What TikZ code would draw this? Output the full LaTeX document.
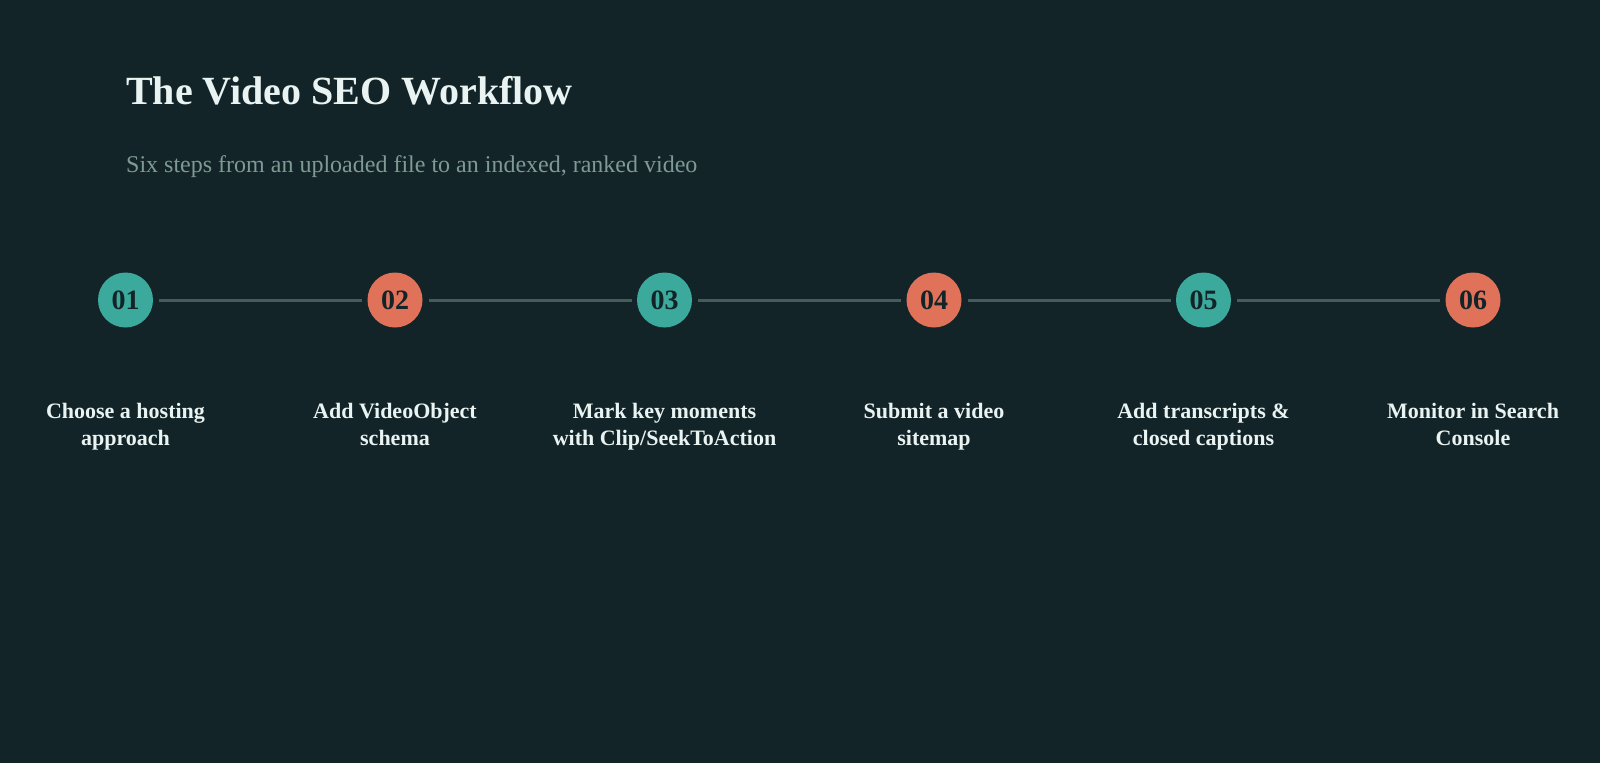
\documentclass[tikz,border=0pt]{standalone}
\usepackage{fontspec}
\setmainfont{Liberation Serif}
\definecolor{bgcol}{HTML}{132428}
\definecolor{tealstep}{HTML}{3BA99C}
\definecolor{coralstep}{HTML}{E0725A}
\definecolor{linkcol}{HTML}{465C5A}
\definecolor{lighttext}{HTML}{E9F3F2}
\definecolor{subtext}{HTML}{7E9A95}
\begin{document}
\begin{tikzpicture}
  [x=1pt, y=-1pt,
   stepnum/.style={circle, inner sep=0pt, minimum size=55pt, text=bgcol,
     font=\fontsize{28}{32}\selectfont\bfseries},
   tealnum/.style={stepnum, fill=tealstep},
   coralnum/.style={stepnum, fill=coralstep},
   steplabel/.style={align=center, anchor=base, text=lighttext, inner sep=0pt,
     font=\fontsize{22}{27.5}\selectfont\bfseries},
   link/.style={draw=linkcol, line width=3pt, shorten >=5pt, shorten <=6pt}]
  \fill[bgcol] (0,0) rectangle (1600,763);
  \useasboundingbox (0,0) rectangle (1600,763);
  \node (title) [anchor=base west, inner sep=0pt, text=lighttext,
     font=\fontsize{40}{48}\selectfont\bfseries] at (126,104) {The Video SEO Workflow};
  \node (subtitle) [anchor=base west, inner sep=0pt, text=subtext,
     font=\fontsize{24}{29}\selectfont] at (126,172) {Six steps from an uploaded file to an indexed, ranked video};
  \node (s1) [tealnum]  at (125.5,300) {01};
  \node (s2) [coralnum] at (395,300)   {02};
  \node (s3) [tealnum]  at (664.5,300) {03};
  \node (s4) [coralnum] at (934,300)   {04};
  \node (s5) [tealnum]  at (1203.5,300) {05};
  \node (s6) [coralnum] at (1473,300)  {06};
  \draw[link] (s1) -- (s2);
  \draw[link] (s2) -- (s3);
  \draw[link] (s3) -- (s4);
  \draw[link] (s4) -- (s5);
  \draw[link] (s5) -- (s6);
  \node (l1) [steplabel] at (125.5,445.5) {Choose a hosting\\approach};
  \node (l2) [steplabel] at (395,445.5)   {Add VideoObject\\schema};
  \node (l3) [steplabel] at (664.5,445.5) {Mark key moments\\with Clip/SeekToAction};
  \node (l4) [steplabel] at (934,445.5)   {Submit a video\\sitemap};
  \node (l5) [steplabel] at (1203.5,445.5) {Add transcripts \&\\closed captions};
  \node (l6) [steplabel] at (1473,445.5)  {Monitor in Search\\Console};
\end{tikzpicture}
\end{document}
